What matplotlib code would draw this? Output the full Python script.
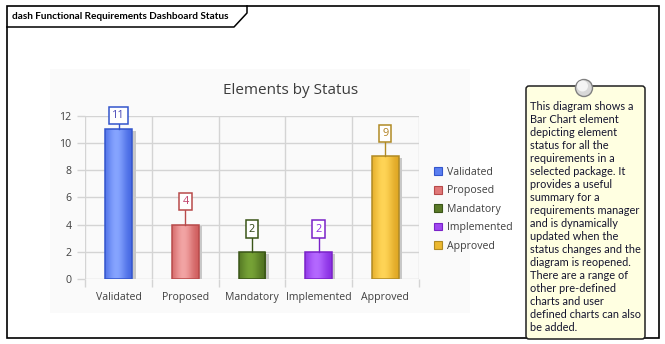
import matplotlib
matplotlib.use("Agg")
import matplotlib.pyplot as plt
import numpy as np
from matplotlib.patches import Rectangle, FancyBboxPatch, Circle, Patch
from matplotlib.colors import to_rgb

# ---------------- data ----------------
categories = ["Validated", "Proposed", "Mandatory", "Implemented", "Approved"]
counts = [11, 4, 2, 2, 9]
light_colors = ["#86a4ff", "#f2a4a4", "#76a236", "#b468ff", "#ffd456"]
dark_colors = ["#3f62e0", "#cc5656", "#4a6a1e", "#8428e0", "#dca21e"]
edge_colors = ["#3355cc", "#b84a4a", "#3a5518", "#7a22c8", "#b08a24"]
label_colors = ["#4a4ab8", "#c0406a", "#2e4414", "#8a2be2", "#b08020"]
legend_colors = ["#5a7ef0", "#e07878", "#5a7a28", "#a048f0", "#ecb830"]
yticks = [0, 2, 4, 6, 8, 10, 12]
title = "Elements by Status"
header = "dash Functional Requirements Dashboard Status"
note_lines = [
    "This diagram shows a", "Bar Chart element", "depicting element",
    "status for all the", "requirements in a", "selected package. It",
    "provides a useful", "summary for a", "requirements manager",
    "and is dynamically", "updated when the", "status changes and the",
    "diagram is reopened.", "There are a range of", "other pre-defined",
    "charts and user", "defined charts can also", "be added.",
]

W, H = 665, 344
fig = plt.figure(figsize=(W / 100, H / 100), dpi=100)
fig.patch.set_facecolor("white")

# background canvas in pixel coordinates
bg = fig.add_axes([0, 0, 1, 1])
bg.set_xlim(0, W)
bg.set_ylim(H, 0)
bg.axis("off")

# outer frame
bg.add_patch(Rectangle((7, 6), 652, 332, fill=False, ec="black", lw=1.2))
# header tab
bg.plot([7, 234, 247, 247], [27, 27, 13, 6], color="black", lw=1.1)
bg.text(12, 16.5, header, fontsize=7.2, fontweight="bold", family="Lato",
        va="center", ha="left", color="black")

# chart panel background
bg.add_patch(Rectangle((50, 69), 420, 244, fc="#fafafa", ec="none"))
bg.text(291, 90, title, fontsize=11, color="#3c3c3c", ha="center", va="center",
        family="Open Sans")

# note box
bg.add_patch(FancyBboxPatch((526, 86), 119, 253, boxstyle="round,pad=0,rounding_size=3",
                            fc="#ffffe1", ec="#202020", lw=1.1))
bg.add_patch(Circle((584, 88), 8.5, fc="#d8d8d8", ec="#808080", lw=1))
bg.add_patch(Circle((582.5, 86), 5.5, fc="#f4f4f4", ec="none"))
for i, line in enumerate(note_lines):
    bg.text(530, 106.5 + i * 13, line, fontsize=7.9, family="Lato",
            color="#14142e", ha="left", va="center")

# ---------------- chart axes ----------------
x0, x1, y0, y1 = 85.5, 418.5, 279.3, 115.5
ax = fig.add_axes([x0 / W, 1 - y0 / H, (x1 - x0) / W, (y0 - y1) / H])
ax.set_facecolor("none")
n = len(categories)
for s in ax.spines.values():
    s.set_visible(False)

gridc = "#d4d4d4"
ax.set_yticks(yticks)
ax.set_xticks(np.arange(n))
ax.set_xticklabels(categories)
ax.set_xticks(np.arange(n + 1) - 0.5, minor=True)
ax.tick_params(axis="x", which="major", length=0, pad=9, labelsize=7.6, labelcolor="#404040")
ax.tick_params(axis="x", which="minor", length=6, color=gridc, width=1)
ax.tick_params(axis="y", length=6, color=gridc, width=1, labelsize=7.6, labelcolor="#404040", pad=4)
for lab in ax.get_xticklabels() + ax.get_yticklabels():
    lab.set_family("Open Sans")
ax.grid(True, axis="y", which="major", color=gridc, lw=1)
ax.grid(True, axis="x", which="minor", color=gridc, lw=1)
ax.set_axisbelow(True)

ymax = yticks[-1]
bw = 0.4
px_x = n / (x1 - x0)          # data units per pixel in x
px_y = ymax / (y0 - y1)       # data units per pixel in y
for i, (v, lc, dc, ec, tc) in enumerate(zip(counts, light_colors, dark_colors, edge_colors, label_colors)):
    left = i - bw / 2
    # shadow
    ax.add_patch(Rectangle((left + 3.5 * px_x, 0), bw, v - 1.5 * px_y, fc="#c8c8c8", ec="none", zorder=2))
    # gradient body
    t = np.linspace(0, 1, 64)
    prof = np.exp(-((t - 0.42) / 0.38) ** 2)
    cl, cd = np.array(to_rgb(lc)), np.array(to_rgb(dc))
    img = cd[None, :] + (cl - cd)[None, :] * prof[:, None]
    rect = Rectangle((left, 0), bw, v, fc="none", ec=ec, lw=1.1, zorder=4)
    ax.add_patch(rect)
    im = ax.imshow(img[None, :, :], extent=(left, left + bw, 0, v), aspect="auto",
                   zorder=3, interpolation="bilinear")
    im.set_clip_path(rect)
    # label with leader line (label kept inside the plot top)
    ly = min(v + 23 * px_y, ymax)
    ax.plot([i, i], [v, ly - 7 * px_y], color=ec, lw=1, zorder=4, clip_on=False)
    ax.text(i, ly, str(v), ha="center", va="center", fontsize=7.8, color=tc,
            family="Open Sans", zorder=6, clip_on=False,
            bbox=dict(boxstyle="square,pad=0.28", fc="white", ec=ec, lw=1.1))
ax.set_xlim(-0.5, n - 0.5)
ax.set_ylim(0, ymax)

# legend
handles = [Patch(fc=c, ec=e, lw=0.8) for c, e in zip(legend_colors, edge_colors)]
leg = fig.legend(handles, categories, loc="upper left",
                 bbox_to_anchor=(434 / W, 1 - 167 / H), frameon=False,
                 fontsize=7.6, handlelength=0.75, handleheight=0.75, handletextpad=0.45,
                 labelspacing=0.7, borderpad=0, borderaxespad=0)
for t in leg.get_texts():
    t.set_color("#404040")
    t.set_family("Open Sans")

fig.savefig("out.png", dpi=100)
